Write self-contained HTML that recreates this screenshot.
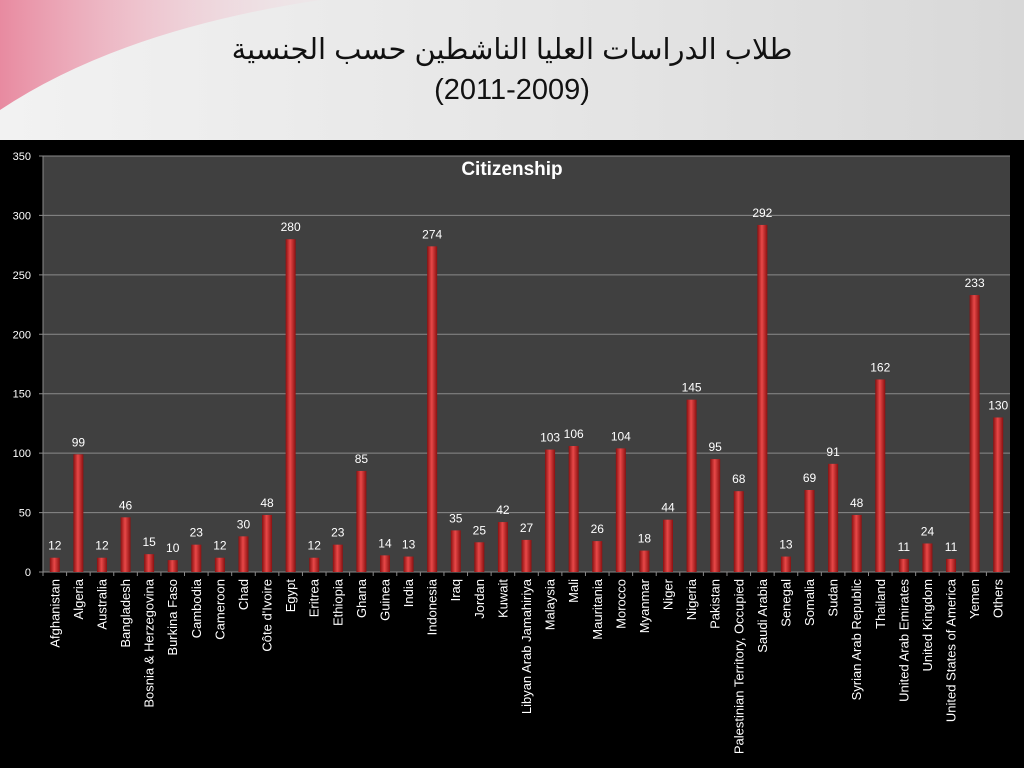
<!DOCTYPE html>
<html><head><meta charset="utf-8"><style>
html,body{margin:0;padding:0;width:1024px;height:768px;overflow:hidden;background:#000;font-family:"Liberation Sans",sans-serif}
#hdr{position:absolute;left:0;top:0;width:1024px;height:140px;background:linear-gradient(90deg,#f2f2f2,#e4e4e4 60%,#d8d8d8)}
#title{position:absolute;left:0;top:30px;width:1024px;text-align:center;font-size:29px;line-height:40px;color:#111;font-family:"Liberation Sans","DejaVu Sans",sans-serif}
</style></head><body>
<div id="hdr">
<svg width="1024" height="140" style="position:absolute;left:0;top:0"><defs><linearGradient id="pk" x1="0" x2="1"><stop offset="0" stop-color="#e88aa0"/><stop offset="1" stop-color="#f4d8e0" stop-opacity="0.2"/></linearGradient></defs>
<path d="M0 0 L320 0 Q120 30 0 110 Z" fill="url(#pk)"/></svg>
<div id="title">طلاب الدراسات العليا الناشطين حسب الجنسية<br>(2011-2009)</div>
</div>
<svg id="chart" width="1024" height="628" style="position:absolute;left:0;top:140px"></svg>
<script>
const categories=["Afghanistan","Algeria","Australia","Bangladesh","Bosnia & Herzegovina","Burkina Faso","Cambodia","Cameroon","Chad","Côte d'Ivoire","Egypt","Eritrea","Ethiopia","Ghana","Guinea","India","Indonesia","Iraq","Jordan","Kuwait","Libyan Arab Jamahiriya","Malaysia","Mali","Mauritania","Morocco","Myanmar","Niger","Nigeria","Pakistan","Palestinian Territory, Occupied","Saudi Arabia","Senegal","Somalia","Sudan","Syrian Arab Republic","Thailand","United Arab Emirates","United Kingdom","United States of America","Yemen","Others"];
const values=[12,99,12,46,15,10,23,12,30,48,280,12,23,85,14,13,274,35,25,42,27,103,106,26,104,18,44,145,95,68,292,13,69,91,48,162,11,24,11,233,130];
const yTicks=[0,50,100,150,200,250,300,350];
const svg=document.getElementById('chart');const NS='http://www.w3.org/2000/svg';
const L=43,R=1010,T=16,B=432,YMAX=350;
const y=v=>B-(v/YMAX)*(B-T);
const bw=(R-L)/categories.length;
const x=i=>L+bw*(i+0.5);
function mk(t,a){const e=document.createElementNS(NS,t);for(const k in a)e.setAttribute(k,a[k]);svg.appendChild(e);return e;}
svg.innerHTML='<defs><linearGradient id="bg" x1="0" x2="1"><stop offset="0" stop-color="#8a1010"/><stop offset="0.45" stop-color="#e84848"/><stop offset="1" stop-color="#8a1010"/></linearGradient></defs>';
const pa=mk('rect',{x:L,y:T,width:R-L,height:B-T,fill:'#404040'});


yTicks.forEach(t=>{
const g=mk('line',{x1:L-4,x2:R,y1:y(t),y2:y(t),stroke:'#8a8a8a','stroke-width':1});


const tx=mk('text',{x:L-12,y:y(t)+4,'text-anchor':'end','font-size':11,fill:'#fff'});
tx.textContent=t;


});
mk('line',{x1:L,x2:L,y1:T,y2:B,stroke:'#8a8a8a'});
const ct=mk('text',{x:512,y:35,'text-anchor':'middle','font-size':19,'font-weight':'bold',fill:'#fff'});
ct.textContent='Citizenship';


categories.forEach((c,i)=>{
const tk=mk('line',{x1:L+bw*i,x2:L+bw*i,y1:B,y2:B+4,stroke:'#8a8a8a'});
const b=mk('rect',{x:x(i)-5,y:y(values[i]),width:10,height:B-y(values[i]),fill:'url(#bg)'});


const v=mk('text',{x:x(i),y:y(values[i])-8,'text-anchor':'middle','font-size':12,fill:'#fff'});
v.textContent=values[i];


const l=mk('text',{x:0,y:0,'text-anchor':'end','font-size':13,fill:'#fff',transform:`translate(${x(i)+4.5},${B+7}) rotate(-90)`});
l.textContent=c;


});
</script>
</body></html>
